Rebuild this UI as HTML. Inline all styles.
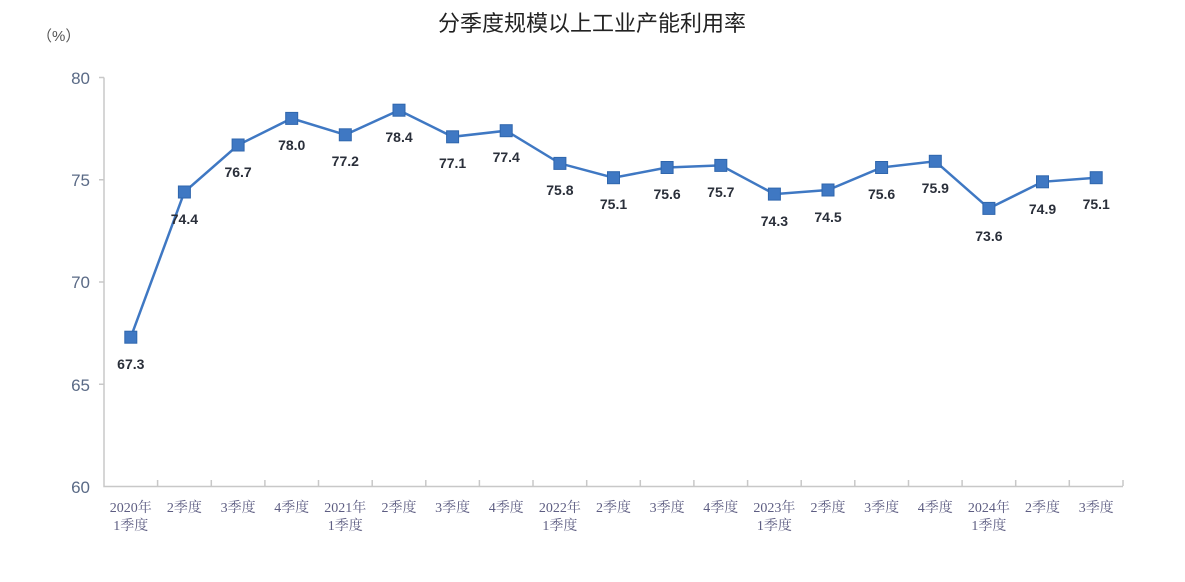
<!DOCTYPE html>
<html><head><meta charset="utf-8"><style>
body{margin:0;background:#fff}
svg text{font-family:"Liberation Sans","Noto Sans CJK SC",sans-serif}
.c{font-family:"Liberation Serif","Noto Serif CJK SC",serif;font-size:14px;fill:#5d5d82}
.v{font-size:14px;font-weight:bold;fill:#2a2f3a}
</style></head><body>
<svg width="1185" height="577" viewBox="0 0 1185 577" xmlns="http://www.w3.org/2000/svg">
<text x="592" y="31" text-anchor="middle" font-size="22" fill="#222">分季度规模以上工业产能利用率</text>
<text x="37" y="41" font-size="15" fill="#555">（%）</text>
<g font-size="17" fill="#5a6a86" text-anchor="end">
<text x="90" y="84">80</text><text x="90" y="186">75</text><text x="90" y="288">70</text><text x="90" y="391">65</text><text x="90" y="493">60</text>
</g>
<g stroke="#c8c8c8" stroke-width="1.5" fill="none">
<path d="M104 77.5V486.5H1123"/>
<path d="M104 77.5h-5M104 179.7h-5M104 282h-5M104 384.2h-5"/>
<path d="M157.6 486v-6M211.3 486v-6M264.9 486v-6M318.5 486v-6M372.2 486v-6M425.8 486v-6M479.4 486v-6M533 486v-6M586.7 486v-6M640.3 486v-6M693.9 486v-6M747.6 486v-6M801.2 486v-6M854.8 486v-6M908.5 486v-6M962.1 486v-6M1015.7 486v-6M1069.3 486v-6M1123 486v-6"/>
</g>
<g class="c" text-anchor="middle">
<text class="c" x="130.8" y="512">2020年</text><text class="c" x="130.8" y="530">1季度</text>
<text class="c" x="184.4" y="512">2季度</text>
<text class="c" x="238.1" y="512">3季度</text>
<text class="c" x="291.7" y="512">4季度</text>
<text class="c" x="345.3" y="512">2021年</text><text class="c" x="345.3" y="530">1季度</text>
<text class="c" x="399" y="512">2季度</text>
<text class="c" x="452.6" y="512">3季度</text>
<text class="c" x="506.2" y="512">4季度</text>
<text class="c" x="559.9" y="512">2022年</text><text class="c" x="559.9" y="530">1季度</text>
<text class="c" x="613.5" y="512">2季度</text>
<text class="c" x="667.1" y="512">3季度</text>
<text class="c" x="720.8" y="512">4季度</text>
<text class="c" x="774.4" y="512">2023年</text><text class="c" x="774.4" y="530">1季度</text>
<text class="c" x="828" y="512">2季度</text>
<text class="c" x="881.6" y="512">3季度</text>
<text class="c" x="935.3" y="512">4季度</text>
<text class="c" x="988.9" y="512">2024年</text><text class="c" x="988.9" y="530">1季度</text>
<text class="c" x="1042.5" y="512">2季度</text>
<text class="c" x="1096.2" y="512">3季度</text>
</g>
<polyline fill="none" stroke="#3f78c3" stroke-width="2.5" points="130.8,337.2 184.4,192 238.1,145 291.7,118.4 345.3,134.8 399,110.2 452.6,136.8 506.2,130.7 559.9,163.4 613.5,177.7 667.1,167.5 720.8,165.4 774.4,194.1 828,190 881.6,167.5 935.3,161.3 988.9,208.4 1042.5,181.8 1096.2,177.7"/>
<g fill="#3f78c3" stroke="#2f66ad" stroke-width="1">
<rect x="124.8" y="331.2" width="12" height="12"/>
<rect x="178.4" y="186" width="12" height="12"/>
<rect x="232.1" y="139" width="12" height="12"/>
<rect x="285.7" y="112.4" width="12" height="12"/>
<rect x="339.3" y="128.8" width="12" height="12"/>
<rect x="393" y="104.2" width="12" height="12"/>
<rect x="446.6" y="130.8" width="12" height="12"/>
<rect x="500.2" y="124.7" width="12" height="12"/>
<rect x="553.9" y="157.4" width="12" height="12"/>
<rect x="607.5" y="171.7" width="12" height="12"/>
<rect x="661.1" y="161.5" width="12" height="12"/>
<rect x="714.8" y="159.4" width="12" height="12"/>
<rect x="768.4" y="188.1" width="12" height="12"/>
<rect x="822" y="184" width="12" height="12"/>
<rect x="875.6" y="161.5" width="12" height="12"/>
<rect x="929.3" y="155.3" width="12" height="12"/>
<rect x="982.9" y="202.4" width="12" height="12"/>
<rect x="1036.5" y="175.8" width="12" height="12"/>
<rect x="1090.2" y="171.7" width="12" height="12"/>
</g>
<g text-anchor="middle">
<text class="v" x="130.8" y="369">67.3</text>
<text class="v" x="184.4" y="224">74.4</text>
<text class="v" x="238.1" y="177">76.7</text>
<text class="v" x="291.7" y="150">78.0</text>
<text class="v" x="345.3" y="166">77.2</text>
<text class="v" x="399" y="142">78.4</text>
<text class="v" x="452.6" y="168">77.1</text>
<text class="v" x="506.2" y="162">77.4</text>
<text class="v" x="559.9" y="195">75.8</text>
<text class="v" x="613.5" y="209">75.1</text>
<text class="v" x="667.1" y="199">75.6</text>
<text class="v" x="720.8" y="197">75.7</text>
<text class="v" x="774.4" y="226">74.3</text>
<text class="v" x="828" y="222">74.5</text>
<text class="v" x="881.6" y="199">75.6</text>
<text class="v" x="935.3" y="193">75.9</text>
<text class="v" x="988.9" y="241">73.6</text>
<text class="v" x="1042.5" y="214">74.9</text>
<text class="v" x="1096.2" y="209">75.1</text>
</g>
</svg>
</body></html>
